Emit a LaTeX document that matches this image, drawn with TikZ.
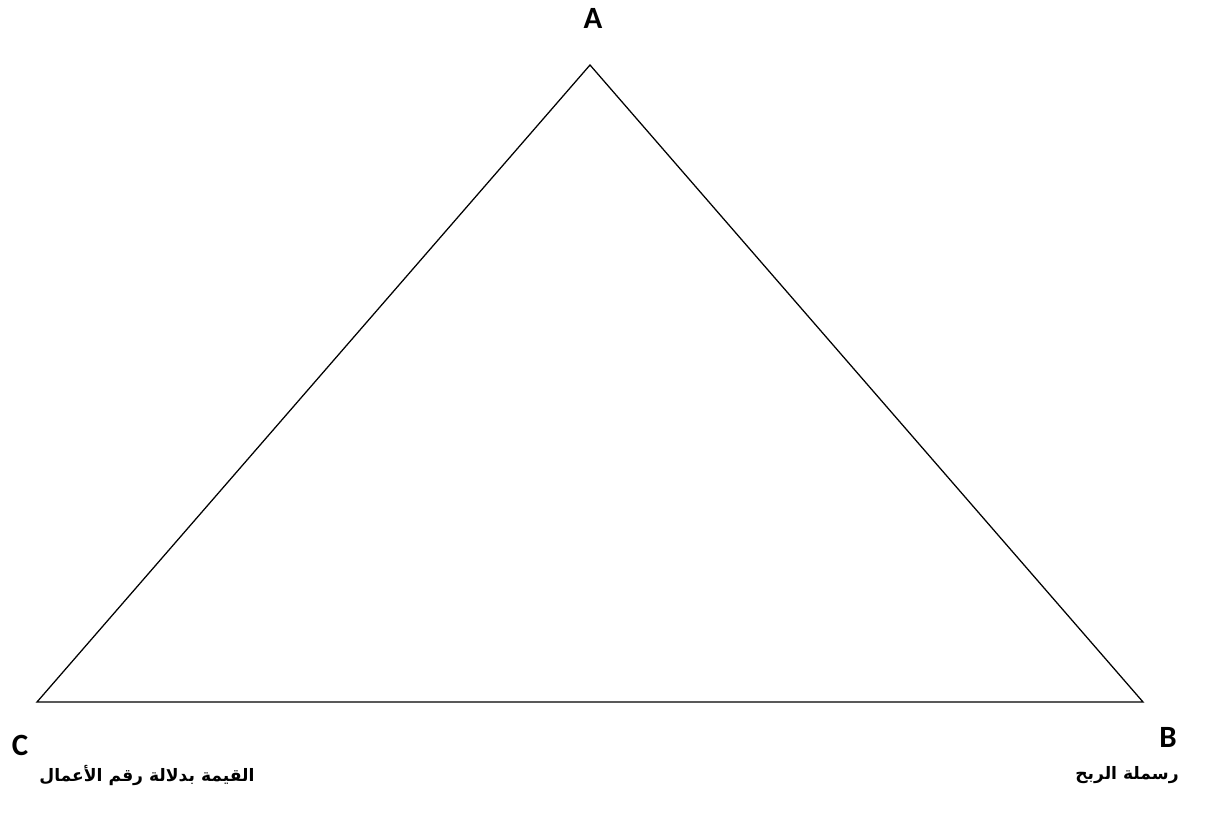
\documentclass[tikz,border=0pt]{standalone}
\usepackage{fontspec}
\setmainfont{Carlito}
\newfontfamily\arabicfont[Script=Arabic]{DejaVu Sans}
\TeXXeTstate=1
\usepackage{tikz}
\usetikzlibrary{positioning}

\tikzset{
  vertexlabel/.style={font=\fontsize{22}{26}\selectfont\bfseries, inner sep=0pt},
  arlabel/.style={font=\arabicfont\fontsize{12.2}{15}\selectfont\bfseries, inner sep=0pt}
}

\begin{document}
\begin{tikzpicture}
\useasboundingbox (0,0) rectangle (30.425,20.325);
\coordinate (A) at (14.75,18.7);
\coordinate (B) at (28.575,2.775);
\coordinate (C) at (0.925,2.775);
\draw[line width=0.9pt, line join=miter] (A) -- (B) -- (C) -- cycle;
\node[vertexlabel] (labA) at (14.825,19.875) {A};
\node[vertexlabel] (labB) at (29.2,1.9) {B};
\node[vertexlabel] (labC) at (0.5,1.7) {C};
\node[arlabel] (txtC) at (3.675,0.95) {\beginR القيمة بدلالة رقم الأعمال\endR};
\node[arlabel] (txtB) at (28.175,0.95) {\beginR رسملة الربح\endR};
\end{tikzpicture}
\end{document}
